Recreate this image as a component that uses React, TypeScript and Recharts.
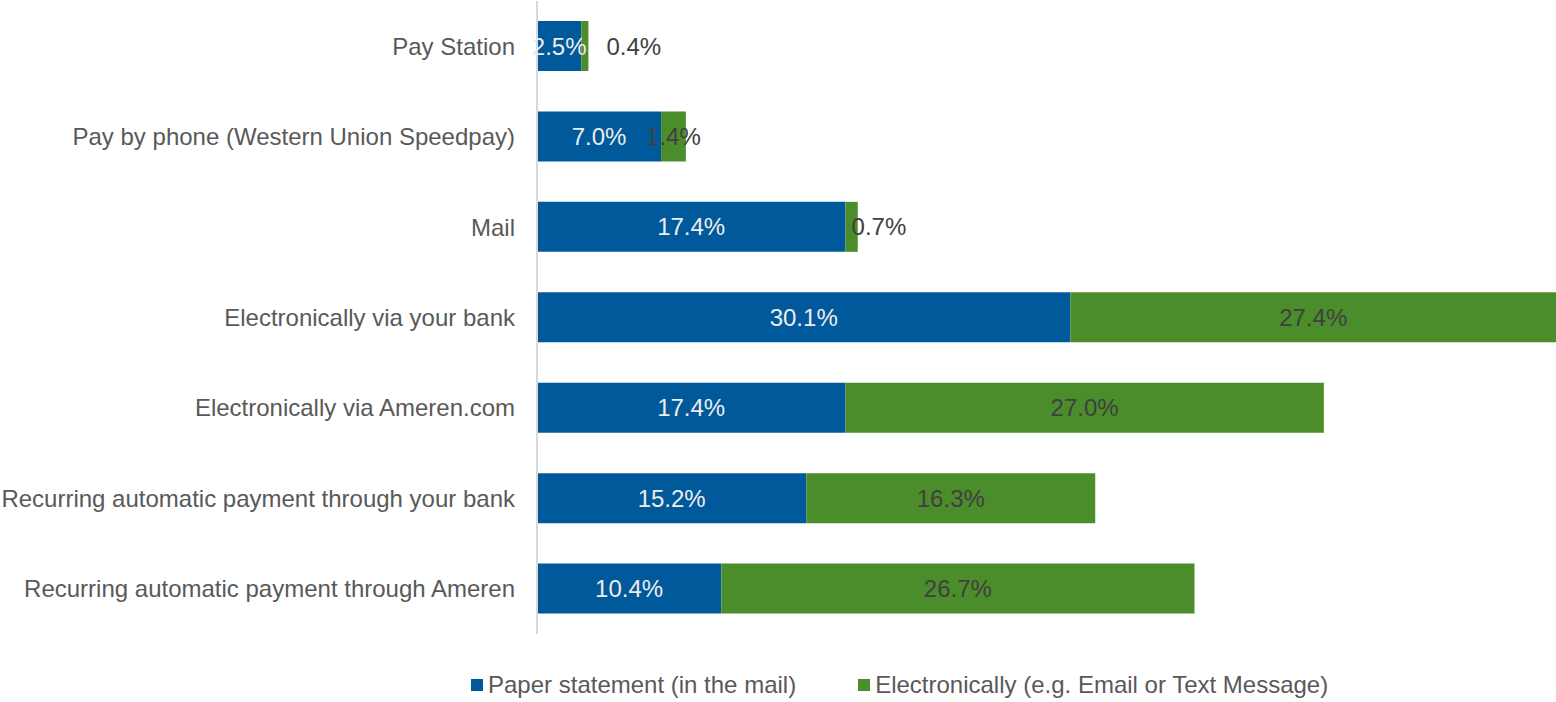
import { BarChart, Bar, XAxis, YAxis, Legend, LabelList } from 'recharts'

const categories = [
  'Pay Station',
  'Pay by phone (Western Union Speedpay)',
  'Mail',
  'Electronically via your bank',
  'Electronically via Ameren.com',
  'Recurring automatic payment through your bank',
  'Recurring automatic payment through Ameren',
]
const paperValues = [2.5, 7.0, 17.4, 30.1, 17.4, 15.2, 10.4]
const electronicValues = [0.4, 1.4, 0.7, 27.4, 27.0, 16.3, 26.7]
const seriesNames = ['Paper statement (in the mail)', 'Electronically (e.g. Email or Text Message)']

const BLUE = '#00599b'
const GREEN = '#4b8c2b'
const FONT = '"Liberation Sans", Arial, sans-serif'

const data = categories.map((name, i) => ({
  name,
  paper: paperValues[i],
  electronic: electronicValues[i],
}))

// tiny segments: label pushed to the right like the original
const makeLabel = (fill: string) => (props: any) => {
  const { x, y, width, height, value } = props
  if (value == null) return null
  let tx = x + width / 2
  let anchor: 'start' | 'middle' = 'middle'
  if (width < 10) {
    tx = x + width + 18
    anchor = 'start'
  } else if (width < 20) {
    anchor = 'start'
  }
  return (
    <text
      x={tx}
      y={y + height / 2}
      textAnchor={anchor}
      dominantBaseline="central"
      fontFamily={FONT}
      fontSize={24}
      fill={fill}
    >
      {Number(value).toFixed(1)}%
    </text>
  )
}

const renderLegend = () => (
  <div
    style={{
      display: 'flex',
      alignItems: 'center',
      paddingLeft: 471,
      paddingTop: 37,
      fontFamily: FONT,
      fontSize: 24,
      lineHeight: '28px',
      color: '#595959',
    }}
  >
    {seriesNames.map((n, i) => (
      <span key={n} style={{ display: 'flex', alignItems: 'center', marginRight: i === 0 ? 62 : 0 }}>
        <span style={{ width: 12, height: 12, background: i === 0 ? BLUE : GREEN, marginRight: 5 }} />
        {n}
      </span>
    ))}
  </div>
)

export default function App() {
  return (
    <div style={{ position: 'absolute', left: 0, top: 0, width: 1556, height: 702, background: '#fff' }}>
      <BarChart
        width={1556}
        height={702}
        data={data}
        layout="vertical"
        margin={{ top: 1, right: 0, bottom: 0, left: 0 }}
        barCategoryGap={40}
      >
        <XAxis type="number" domain={[0, 57.5]} hide />
        <YAxis
          type="category"
          dataKey="name"
          width={537}
          tickSize={0}
          tickMargin={22}
          tickLine={false}
          axisLine={{ stroke: '#d9d9d9', strokeWidth: 2 }}
          tick={{ fontFamily: FONT, fontSize: 24, fill: '#595959' }}
          interval={0}
        />
        <Legend
          verticalAlign="bottom"
          content={renderLegend}
          wrapperStyle={{ left: 0, width: 1556, height: 68 }}
        />
        <Bar dataKey="paper" stackId="a" fill={BLUE} barSize={50} isAnimationActive={false}>
          <LabelList dataKey="paper" content={makeLabel('#ededed')} />
        </Bar>
        <Bar dataKey="electronic" stackId="a" fill={GREEN} barSize={50} isAnimationActive={false}>
          <LabelList dataKey="electronic" content={makeLabel('#404040')} />
        </Bar>
      </BarChart>
    </div>
  )
}
